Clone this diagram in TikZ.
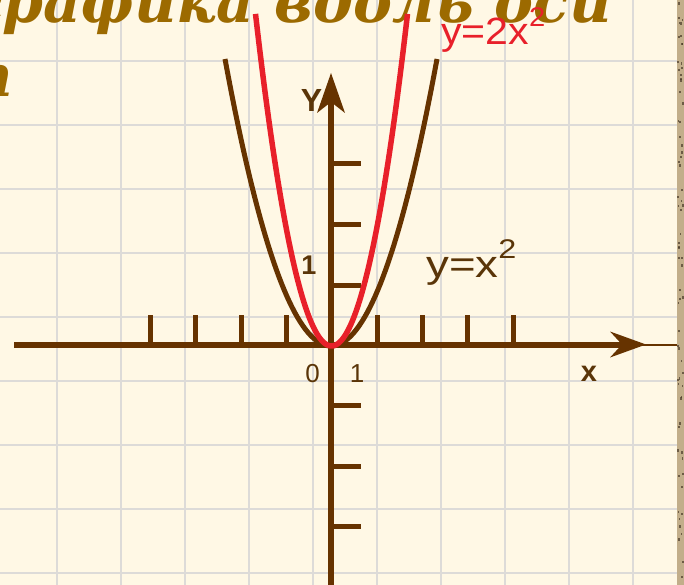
\documentclass[tikz,border=0pt]{standalone}
\usepackage{fontspec}
\setmainfont{Liberation Sans}
\newfontfamily\titlefont{DejaVu Serif}
\definecolor{bg}{HTML}{FFF8E5}
\definecolor{gridc}{HTML}{DDDBD8}
\definecolor{axisc}{HTML}{663300}
\definecolor{redc}{HTML}{E8202A}
\definecolor{titlec}{HTML}{9C6A00}
\definecolor{labc}{HTML}{5A3508}
\definecolor{stripc}{HTML}{C2AE8A}
\definecolor{stripd}{HTML}{4A3A28}
\tikzset{
  gridline/.style={gridc, line width=2.5},
  axisline/.style={axisc, line width=6},
  tickline/.style={axisc, line width=5},
  curvebrown/.style={axisc, line width=5},
  curvered/.style={redc, line width=5.5},
  lab/.style={inner sep=0pt, text=labc},
  titletext/.style={anchor=base east, inner sep=0pt, text=titlec, font=\titlefont\bfseries\itshape\fontsize{58.5}{62}\selectfont},
}
\begin{document}
\begin{tikzpicture}[x=1pt,y=-1pt]
\useasboundingbox (0,0) rectangle (684,585);
\clip (0,0) rectangle (684,585);
\fill[bg] (0,0) rectangle (684,585);
% grid
\foreach \gx in {57,121,...,633} \draw[gridline] (\gx,0) -- (\gx,585);
\foreach \gy in {61,125,...,573} \draw[gridline] (0,\gy) -- (677,\gy);
% right strip
\fill[stripc] (677,0) rectangle (684,585);
\pgfmathsetseed{7}
\foreach \i in {1,...,70}{
  \pgfmathsetmacro{\sy}{rnd*585}
  \pgfmathsetmacro{\sx}{677+rnd*5}
  \fill[stripd, opacity=0.7] (\sx,\sy) rectangle ++(1.8,2.5);
}
% title text (partly outside the picture)
\node[titletext] (title1) at (612,23) {графика вдоль оси};
\node[titletext] (title2) at (13,97) {п};
% axes
\draw[axisline] (14,345) -- (625,345);
\draw[axisc, line width=2] (640,344.5) -- (677,344.5);
\fill[axisc] (646,344.5) -- (610,331.5) -- (622,344.5) -- (610,357.5) -- cycle;
\draw[axisline] (331,585) -- (331,100);
\fill[axisc] (331,73) -- (345,113) -- (331,102) -- (317,113) -- cycle;
% ticks
\foreach \tx in {150,195,241,286,377,422,467,513} \draw[tickline] (\tx,345) -- (\tx,315);
\foreach \ty in {164,224,285,405,466,526} \draw[tickline] (331,\ty) -- (361,\ty);
% curves
\draw[curvebrown] plot[domain=-106:106, samples=80] ({331+\x},{346-0.02554*\x*\x});
\draw[curvered] plot[domain=-76:76, samples=80] ({331.5+\x},{346-0.0575*\x*\x});
% labels
\node[lab, anchor=base west, text=redc, font=\fontsize{38}{40}\selectfont] (lred) at (441,45) {\scalebox{1.08}[1]{y=2x\raisebox{0.48em}{\fontsize{27}{28}\selectfont 2}}};
\node[lab, anchor=base west, font=\fontsize{38}{40}\selectfont] (lbrown) at (426,277) {\scalebox{1.2}[1]{y=x\raisebox{0.48em}{\fontsize{27}{28}\selectfont 2}}};
\node[lab, font=\bfseries\fontsize{32}{34}\selectfont] (ly) at (311.5,100.5) {Y};
\node[lab, font=\bfseries\fontsize{29}{30}\selectfont] (lx) at (589,374) {x};
\node[lab, font=\fontsize{26}{27}\selectfont] (l0) at (312.5,374) {0};
\node[lab, font=\fontsize{26}{27}\selectfont] (l1x) at (357,374) {1};
\node[lab, font=\bfseries\fontsize{27}{28}\selectfont] (l1y) at (309,265) {1};
\end{tikzpicture}
\end{document}
